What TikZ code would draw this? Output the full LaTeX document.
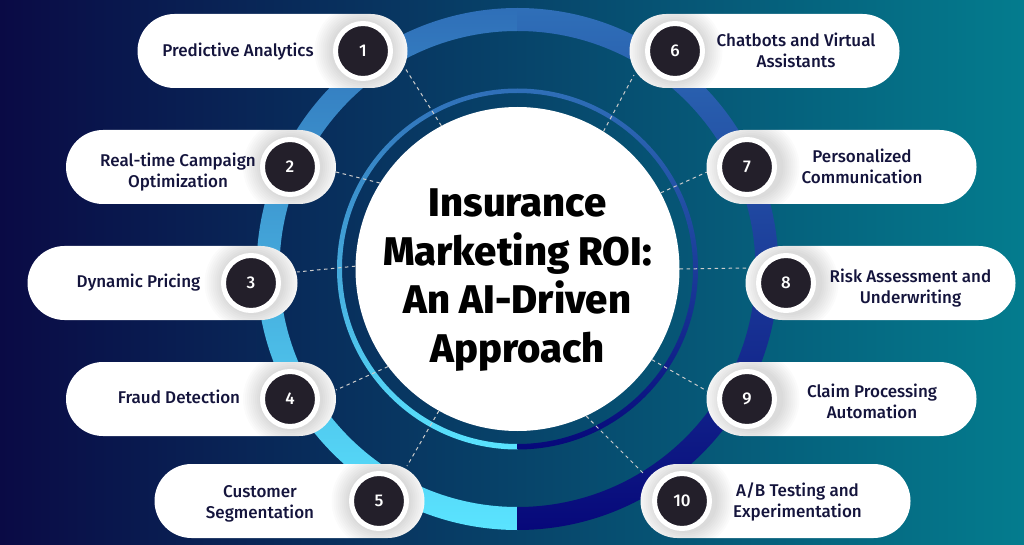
\documentclass[tikz,border=0pt]{standalone}
\usepackage{fontspec}
\setmainfont{Fira Sans Medium}
\newfontfamily\titlefont{Fira Sans ExtraBold}
\usetikzlibrary{shapes.misc}
\definecolor{bgleft}{HTML}{0A0A45}
\definecolor{bgmid}{HTML}{05406B}
\definecolor{bgright}{HTML}{047C8E}
\definecolor{ringtop}{HTML}{2F6FB8}
\definecolor{ringleft}{HTML}{42A6DC}
\definecolor{ringlow}{HTML}{5AE4FF}
\definecolor{ringright}{HTML}{2A4AA6}
\definecolor{ringend}{HTML}{07087A}
\definecolor{badgefill}{HTML}{231F2A}
\definecolor{labelink}{HTML}{14143C}
\tikzset{
  pill/.style={rounded rectangle,fill=white,minimum width=270pt,minimum height=74pt,inner sep=0pt},
  pillleft/.style={pill,path picture={\foreach \rad in {32,34,...,48}
    \fill[black,opacity=.016] ([xshift=-45pt]path picture bounding box.east) circle (\rad pt);}},
  pillright/.style={pill,path picture={\foreach \rad in {32,34,...,48}
    \fill[black,opacity=.016] ([xshift=45pt]path picture bounding box.west) circle (\rad pt);}},
  badge/.style={circle,fill=badgefill,draw=white,line width=5pt,minimum size=55pt,inner sep=0pt,
    text=white,font=\fontsize{17}{17}\selectfont},
  label/.style={align=center,text=labelink,font=\fontsize{17}{21}\selectfont},
  dashline/.style={white!80!black,line width=1pt,dash pattern=on 3.5pt off 3.5pt}
}
\begin{document}
\begin{tikzpicture}[x=1pt,y=1pt]
  \useasboundingbox (0,0) rectangle (1024,544);
  \shade[left color=bgleft,middle color=bgmid,right color=bgright] (0,0) rectangle (1024,544);
  % outer ring, two halves
  \shade[top color=ringtop,middle color=ringleft,bottom color=ringlow]
    (517.5,536) arc[start angle=90,end angle=270,radius=261] -- (517.5,37)
    arc[start angle=270,end angle=90,radius=238] -- cycle;
  \shade[top color=ringtop,middle color=ringright,bottom color=ringend]
    (517.5,536) arc[start angle=90,end angle=-90,radius=261] -- (517.5,37)
    arc[start angle=-90,end angle=90,radius=238] -- cycle;
  % inner ring, two halves
  \shade[top color=ringtop,middle color=ringleft,bottom color=ringlow]
    (517.5,455.5) arc[start angle=90,end angle=270,radius=180.5] -- (517.5,100)
    arc[start angle=270,end angle=90,radius=175.5] -- cycle;
  \shade[top color=ringtop,middle color=ringright,bottom color=ringend]
    (517.5,455.5) arc[start angle=90,end angle=-90,radius=180.5] -- (517.5,100)
    arc[start angle=-90,end angle=90,radius=175.5] -- cycle;
  \node[circle,fill=white,minimum size=324pt,inner sep=0pt] (hub) at (517.5,275) {};
  \node[align=center,text=black,font=\titlefont\fontsize{40}{48.5}\selectfont] (title) at (517.5,264)
    {Insurance\\Marketing ROI:\\An AI-Driven\\Approach};
  \coordinate (d1) at (405,476);
  \coordinate (d2) at (336,372);
  \coordinate (d3) at (297,272);
  \coordinate (d4) at (336,154);
  \coordinate (d5) at (407,78);
  \coordinate (d6) at (634,469);
  \coordinate (d7) at (707,372);
  \coordinate (d8) at (746,276);
  \coordinate (d9) at (707,153);
  \coordinate (d10) at (645,69);
  \begin{scope}[dashline]
    \draw (hub.118) to (d1);
    \draw (hub.148) to (d2);
    \draw (hub.179) to (d3);
    \draw (hub.217) to (d4);
    \draw (hub.241) to (d5);
    \draw (hub.58) to (d6);
    \draw (hub.28) to (d7);
    \draw (hub.0) to (d8);
    \draw (hub.326) to (d9);
    \draw (hub.295) to (d10);
  \end{scope}
  \path
    (272.5,493) node[pillleft] (p1){}
    (201,377) node[pillleft] (p2){}
    (162.5,261) node[pillleft] (p3){}
    (201,145) node[pillleft] (p4){}
    (289.5,43) node[pillleft] (p5){}
    (764.5,493) node[pillright] (p6){}
    (841.5,377) node[pillright] (p7){}
    (880.5,261) node[pillright] (p8){}
    (841.5,145) node[pillright] (p9){}
    (775.5,43) node[pillright] (p10){};
  \path
    (363,493) node[badge] (b1){1}
    (290,377) node[badge] (b2){2}
    (251,261) node[badge] (b3){3}
    (290,145) node[badge] (b4){4}
    (379,43) node[badge] (b5){5}
    (675,493) node[badge] (b6){6}
    (747,377) node[badge] (b7){7}
    (786,261) node[badge] (b8){8}
    (747,145) node[badge] (b9){9}
    (682,43) node[badge] (b10){10};
  \path
    (238,492) node[label] (l1){Predictive Analytics}
    (178,371.5) node[label] (l2){Real-time Campaign\\Optimization}
    (138.5,261) node[label] (l3){Dynamic Pricing}
    (179,147) node[label] (l4){Fraud Detection}
    (260,40) node[label] (l5){Customer\\Segmentation}
    (796,494) node[label] (l6){Chatbots and Virtual\\Assistants}
    (862,377.5) node[label] (l7){Personalized\\Communication}
    (910.5,255.5) node[label] (l8){Risk Assessment and\\Underwriting}
    (872,143) node[label] (l9){Claim Processing\\Automation}
    (797.5,42) node[label] (l10){A/B Testing and\\Experimentation};
\end{tikzpicture}
\end{document}
